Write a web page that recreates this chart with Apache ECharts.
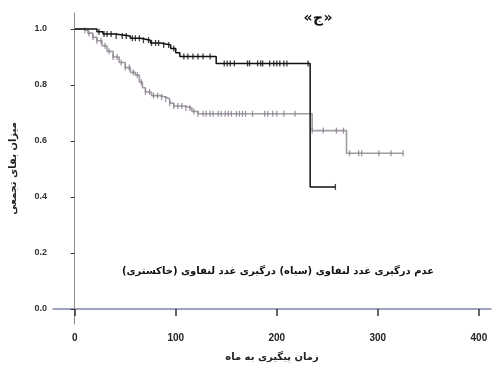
<!DOCTYPE html>
<html>
<head>
<meta charset="utf-8">
<script src="https://cdn.jsdelivr.net/npm/echarts@6/dist/echarts.min.js"></script>
<style>
  html, body { margin: 0; padding: 0; background: #fff; }
  #main { width: 493px; height: 367px; }
</style>
</head>
<body>
<div id="main"></div>
<script>
// survival steps, black = no lymph node involvement
var blackTimes = [0, 22, 28, 40, 55, 65, 75, 85, 95, 100, 104, 140, 233, 258];
var blackSurv = [1.0, 0.99, 0.982, 0.975, 0.967, 0.96, 0.95, 0.943, 0.93, 0.915, 0.902, 0.877, 0.436, 0.436];
var blackCensor = [24, 29, 32, 36, 41, 47, 51, 57, 60, 64, 68, 73, 76, 80, 83, 88, 93, 98, 108, 112, 117, 122, 127, 134,
  148, 151, 154, 158, 171, 173, 181, 184, 186, 193, 197, 200, 203, 207, 210, 231, 258];

// gray = lymph node involvement
var grayTimes = [0, 8, 13, 18, 22, 27, 32, 38, 44, 50, 55, 60, 64, 67, 70, 76, 84, 90, 94, 98, 108, 116, 122, 235, 269, 325];
var graySurv = [1.0, 0.995, 0.985, 0.97, 0.958, 0.94, 0.92, 0.9, 0.88, 0.862, 0.845, 0.835, 0.81, 0.79, 0.775, 0.762, 0.757, 0.75, 0.735, 0.725, 0.718, 0.705, 0.697, 0.637, 0.556, 0.556];
var grayCensor = [10, 14, 18, 22, 26, 30, 34, 38, 42, 46, 50, 54, 58, 62, 66, 70, 74, 78, 82, 86, 90, 94, 98, 102, 106, 110, 114, 118,
  122, 127, 130, 134, 137, 142, 145, 149, 152, 155, 160, 163, 166, 169, 176, 188, 191, 196, 200, 207, 218, 235,
  246, 259, 266, 272, 281, 284, 301, 313, 325];

var xTicks = [0, 100, 200, 300, 400];
var yTicks = [0, 0.2, 0.4, 0.6, 0.8, 1.0];

function survAt(times, surv, t) {
  var s = surv[0];
  for (var i = 0; i < times.length; i++) {
    if (times[i] <= t) s = surv[i];
  }
  return s;
}

function pairs(times, surv) {
  return times.map(function (t, i) { return [t, surv[i]]; });
}

function marks(censor, times, surv) {
  return censor.map(function (t) { return [t, survAt(times, surv, t)]; });
}

// panel label drawn piece by piece so the guillemets keep their order
function titlePart(ch, x) {
  return {
    type: 'text',
    x: x,
    y: 18,
    style: {
      text: ch,
      font: 'bold 14px "DejaVu Sans"',
      fill: '#111',
      align: 'center',
      verticalAlign: 'middle'
    }
  };
}

var chart = echarts.init(document.getElementById('main'));

var option = {
  animation: false,
  backgroundColor: '#fff',
  grid: { left: 48, right: 2, top: 13, bottom: 43 },
  xAxis: {
    type: 'value',
    min: -21.5,
    max: 412,
    name: 'زمان پیگیری به ماه',
    nameLocation: 'middle',
    nameGap: 28,
    nameTextStyle: { fontSize: 10, color: '#222', fontWeight: 'bold', fontFamily: 'DejaVu Sans' },
    splitLine: { show: false },
    axisLine: { lineStyle: { color: '#7f86a8', width: 1.5 } },
    axisTick: { customValues: xTicks, length: 7, lineStyle: { color: '#333', width: 1.5 } },
    axisLabel: { customValues: xTicks, margin: 9, fontSize: 10, fontWeight: 'bold', color: '#222', fontFamily: 'Liberation Sans' }
  },
  yAxis: {
    type: 'value',
    min: -0.0536,
    max: 1.057,
    name: 'میزان بقای تجمعی',
    nameLocation: 'middle',
    nameGap: 35,
    nameTextStyle: { fontSize: 10, color: '#222', fontWeight: 'bold', fontFamily: 'DejaVu Sans' },
    splitLine: { show: false },
    axisLine: { lineStyle: { color: '#8a8a8a', width: 1 } },
    axisTick: { customValues: yTicks, length: 4, lineStyle: { color: '#333' } },
    axisLabel: {
      customValues: yTicks, margin: 6, fontSize: 9, fontWeight: 'bold', color: '#333', fontFamily: 'Liberation Sans',
      formatter: function (v) { return v.toFixed(1); }
    }
  },
  graphic: [
    titlePart('«', 308),
    titlePart('ج', 318),
    titlePart('»', 328),
    {
      type: 'text',
      x: 278,
      y: 271,
      style: {
        text: '\u200Fعدم درگیری غدد لنفاوی (سیاه) درگیری غدد لنفاوی (خاکستری)\u200F',
        font: 'bold 10px "DejaVu Sans"',
        fill: '#111',
        align: 'center',
        verticalAlign: 'middle'
      }
    }
  ],
  series: [
    {
      type: 'line',
      step: 'end',
      data: pairs(grayTimes, graySurv),
      showSymbol: false,
      lineStyle: { color: '#a39aa5', width: 1.6 },
      z: 2
    },
    {
      type: 'scatter',
      data: marks(grayCensor, grayTimes, graySurv),
      symbol: 'rect',
      symbolSize: [1.3, 6],
      itemStyle: { color: '#857d88' },
      z: 3
    },
    {
      type: 'line',
      step: 'end',
      data: pairs(blackTimes, blackSurv),
      showSymbol: false,
      lineStyle: { color: '#111', width: 1.5 },
      z: 4
    },
    {
      type: 'scatter',
      data: marks(blackCensor, blackTimes, blackSurv),
      symbol: 'rect',
      symbolSize: [1.3, 6],
      itemStyle: { color: '#111' },
      z: 5
    }
  ]
};

chart.setOption(option);
</script>
</body>
</html>
